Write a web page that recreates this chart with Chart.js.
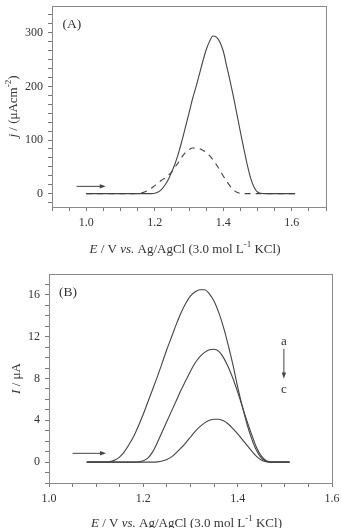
<!DOCTYPE html>
<html>
<head>
<meta charset="utf-8">
<script src="https://cdn.jsdelivr.net/npm/chart.js@4.4.1/dist/chart.umd.min.js"></script>
<style>
  html, body { margin:0; padding:0; background:#fff; }
  .panel { position:relative; width:342px; height:264px; }
</style>
</head>
<body>
<div class="panel"><canvas id="chartA"></canvas></div>
<div class="panel"><canvas id="chartB"></canvas></div>
<script>
// ---------- Data ----------
// Panel A: j / (uA cm-2) vs E / V
const potA    = [1.00, 1.19, 1.20, 1.21, 1.22, 1.23, 1.24, 1.25, 1.26, 1.27, 1.28, 1.29, 1.30, 1.31, 1.32, 1.33, 1.34, 1.35,
                 1.36, 1.37, 1.38, 1.39, 1.40, 1.41, 1.42, 1.43, 1.44, 1.45, 1.46, 1.47, 1.48, 1.49, 1.50, 1.51, 1.52, 1.61];
const jSolid  = [0, 0, 0.5, 3, 8, 16, 27, 41, 57, 77, 100, 125, 150, 176, 198, 222, 246, 268,
                 284, 294, 292, 283, 266, 238, 210, 180, 148, 115, 84, 54, 29, 12, 3, 0.5, 0, 0];
const potADash = [1.00, 1.14, 1.15, 1.16, 1.17, 1.18, 1.19, 1.20, 1.21, 1.22, 1.23, 1.24, 1.25, 1.26, 1.27, 1.28, 1.29, 1.30,
                  1.31, 1.32, 1.33, 1.34, 1.35, 1.36, 1.37, 1.38, 1.39, 1.40, 1.41, 1.42, 1.43, 1.44, 1.45, 1.46, 1.61];
const jDashed  = [0, 0, 0.3, 1, 3, 6, 10, 15, 20, 25, 29, 34, 41, 50, 59, 69, 77, 82,
                  85, 85, 84, 81, 77, 71, 63, 54, 44, 33, 23, 14, 7, 2.5, 0.5, 0, 0];

// Panel B: I / uA vs E / V, curves a -> c
const potB   = [1.08, 1.10, 1.11, 1.12, 1.13, 1.14, 1.15, 1.16, 1.17, 1.18, 1.19, 1.20, 1.21, 1.22, 1.23, 1.24, 1.25, 1.26, 1.27, 1.28,
                1.29, 1.30, 1.31, 1.32, 1.33, 1.34, 1.35, 1.36, 1.37, 1.38, 1.39, 1.40, 1.41, 1.42, 1.43, 1.44, 1.45, 1.46, 1.47, 1.48, 1.51];
const curveA = [0, 0, 0, 0, 0.05, 0.2, 0.5, 1.0, 1.7, 2.5, 3.5, 4.6, 5.8, 7.0, 8.2, 9.5, 10.8, 12.0, 13.2, 14.3,
                15.2, 15.9, 16.3, 16.5, 16.5, 16.1, 15.4, 14.3, 12.9, 11.2, 9.3, 7.2, 5.3, 3.6, 2.2, 1.1, 0.4, 0.08, 0, 0, 0];
const curveB = [0, 0, 0, 0, 0, 0, 0, 0, 0, 0, 0.02, 0.12, 0.4, 1.0, 1.9, 2.9, 3.9, 4.9, 5.9, 6.9,
                7.8, 8.7, 9.5, 10.1, 10.5, 10.75, 10.8, 10.6, 10.0, 9.1, 8.0, 6.7, 5.3, 3.9, 2.6, 1.4, 0.6, 0.15, 0, 0, 0];
const curveC = [0, 0, 0, 0, 0, 0, 0, 0, 0, 0, 0, 0, 0, 0, 0.02, 0.1, 0.25, 0.5, 0.9, 1.35,
                1.85, 2.4, 2.95, 3.4, 3.75, 4.0, 4.1, 4.1, 3.95, 3.65, 3.2, 2.7, 2.15, 1.6, 1.05, 0.55, 0.2, 0.04, 0, 0, 0];

// annotations, in data units
const arrowsA = [[0.972, 13.5, 1.057, 13.5]];
const notesA  = [{ t:'(A)', x:0.931, y:315, align:'left' }];
const arrowsB = [[1.050, 0.84, 1.121, 0.84], [1.498, 10.85, 1.498, 8.0]];
const notesB  = [{ t:'(B)', x:1.021, y:16.2, align:'left' }, { t:'a', x:1.498, y:11.5 }, { t:'c', x:1.498, y:6.9 }];

// axis titles (rich text runs)
const xTitleRuns  = [{t:'E', it:true}, {t:' / V '}, {t:'vs.', it:true}, {t:' Ag/AgCl (3.0 mol L'}, {t:'-1', sup:true}, {t:' KCl)'}];
const yTitleRunsA = [{t:'j', it:true}, {t:' / (\u03bcAcm'}, {t:'-2', sup:true}, {t:')'}];
const yTitleRunsB = [{t:'I', it:true}, {t:' / \u03bcA'}];

// ---------- Helpers ----------
const SERIF = '"Liberation Serif", "Times New Roman", serif';
const INK = '#333';
const LINE = '#444';

function pts(xs, ys){ return xs.map((x, i) => ({ x, y: ys[i] })); }
function steps(a, b, s){ const out = []; for (let k = 0; a + k*s <= b + 1e-9; k++) out.push(+(a + k*s).toFixed(6)); return out; }
function isMult(v, m){ return Math.abs(v/m - Math.round(v/m)) < 1e-6; }

function drawRuns(ctx, runs, size, x, y, rot){
  ctx.save();
  ctx.translate(x, y);
  if (rot) ctx.rotate(-Math.PI/2);
  const parts = runs.map(r => {
    const fs = r.sup ? Math.round(size*0.68) : size;
    const font = (r.it ? 'italic ' : '') + fs + 'px ' + SERIF;
    ctx.font = font;
    return { r, font, w: ctx.measureText(r.t).width };
  });
  const total = parts.reduce((s, p) => s + p.w, 0);
  let cx = -total/2;
  ctx.fillStyle = INK;
  ctx.textAlign = 'left';
  ctx.textBaseline = 'alphabetic';
  for (const p of parts){
    ctx.font = p.font;
    ctx.fillText(p.r.t, cx, p.r.sup ? -size*0.08 : size*0.35);
    cx += p.w;
  }
  ctx.restore();
}

function arrow(ctx, x1, y1, x2, y2){
  const ang = Math.atan2(y2 - y1, x2 - x1), hl = 6, hw = 2.2;
  const c = Math.cos(ang), s = Math.sin(ang);
  ctx.beginPath(); ctx.moveTo(x1, y1); ctx.lineTo(x2 - hl*0.5*c, y2 - hl*0.5*s); ctx.stroke();
  ctx.beginPath();
  ctx.moveTo(x2, y2);
  ctx.lineTo(x2 - hl*c + hw*s, y2 - hl*s - hw*c);
  ctx.lineTo(x2 - hl*c - hw*s, y2 - hl*s + hw*c);
  ctx.closePath(); ctx.fill();
}

// frame, titles, arrows and labels
const deco = {
  id: 'deco',
  afterDatasetsDraw(chart, args, o){
    const { ctx, chartArea: ca, scales: { x, y } } = chart;
    ctx.save();
    ctx.strokeStyle = '#8a8a8a'; ctx.lineWidth = 1;
    ctx.strokeRect(Math.round(ca.left) + 0.5, Math.round(ca.top) + 0.5,
                   Math.round(ca.right - ca.left), Math.round(ca.bottom - ca.top));
    ctx.strokeStyle = LINE; ctx.fillStyle = LINE; ctx.lineWidth = 1;
    for (const a of o.arrows) arrow(ctx, x.getPixelForValue(a[0]), y.getPixelForValue(a[1]),
                                        x.getPixelForValue(a[2]), y.getPixelForValue(a[3]));
    ctx.fillStyle = INK; ctx.textBaseline = 'middle';
    for (const n of o.notes){
      ctx.font = (n.t.length > 1 ? 13.5 : 13) + 'px ' + SERIF;
      ctx.textAlign = n.align || 'center';
      ctx.fillText(n.t, x.getPixelForValue(n.x), y.getPixelForValue(n.y));
    }
    drawRuns(ctx, xTitleRuns, 13, (ca.left + ca.right)/2 + o.xTitleDx, ca.bottom + o.xTitleDy, false);
    drawRuns(ctx, o.yRuns, 13, o.yTitleX, (ca.top + ca.bottom)/2, true);
    ctx.restore();
  }
};

Chart.defaults.font.family = SERIF;
Chart.defaults.font.size = 12;
Chart.defaults.color = INK;
Chart.defaults.animation = false;
Chart.defaults.plugins.legend.display = false;
Chart.defaults.plugins.tooltip.enabled = false;

function axis(min, max, tickList, labelStep, fmt, fit){
  return {
    type: 'linear', min, max,
    border: { display: false },
    grid: { drawOnChartArea: false, drawTicks: true, tickLength: 4, tickColor: '#777', lineWidth: 1 },
    ticks: { padding: 5, color: INK, font: { size: 12, family: SERIF },
             callback: v => isMult(v, labelStep) ? fmt(v) : '' , autoSkip: false, maxRotation: 0 },
    afterBuildTicks: s => { s.ticks = tickList.map(v => ({ value: v })); },
    afterFit: s => { fit(s); s.paddingTop = 0; s.paddingBottom = 0; s.paddingLeft = 0; s.paddingRight = 0; }
  };
}

function lineDs(data, dash){
  return { data, borderColor: LINE, borderWidth: 1.1, pointRadius: 0, fill: false,
           cubicInterpolationMode: 'monotone', borderDash: dash || [] };
}

// ---------- Panel A ----------
new Chart(document.getElementById('chartA'), {
  type: 'line',
  data: { datasets: [ lineDs(pts(potA, jSolid)), lineDs(pts(potADash, jDashed), [6, 5]) ] },
  options: {
    responsive: true, maintainAspectRatio: false, devicePixelRatio: 1,
    layout: { padding: { top: 6, right: 16, left: 0, bottom: 0 } },
    scales: {
      x: axis(0.9, 1.7, steps(0.9, 1.7, 0.05), 0.2, v => v.toFixed(1), s => { s.height = 57; }),
      y: axis(-25, 350, steps(-100/6, 340, 100/6), 100, v => String(Math.round(v)), s => { s.width = 52; })
    },
    plugins: { deco: { arrows: arrowsA, notes: notesA, yRuns: yTitleRunsA, yTitleX: 12.5, xTitleDx: -4, xTitleDy: 41 } }
  },
  plugins: [deco]
});

// ---------- Panel B ----------
new Chart(document.getElementById('chartB'), {
  type: 'line',
  data: { datasets: [ lineDs(pts(potB, curveA)), lineDs(pts(potB, curveB)), lineDs(pts(potB, curveC)) ] },
  options: {
    responsive: true, maintainAspectRatio: false, devicePixelRatio: 1,
    layout: { padding: { top: 10, right: 10, left: 0, bottom: 0 } },
    scales: {
      x: axis(1.0, 1.6, steps(1.0, 1.6, 0.05), 0.2, v => v.toFixed(1), s => { s.height = 45; }),
      y: axis(-2, 18, steps(-2, 17, 1), 4, v => String(Math.round(v)), s => { s.width = 49; })
    },
    plugins: { deco: { arrows: arrowsB, notes: notesB, yRuns: yTitleRunsB, yTitleX: 15, xTitleDx: -4, xTitleDy: 39 } }
  },
  plugins: [deco]
});
</script>
</body>
</html>
